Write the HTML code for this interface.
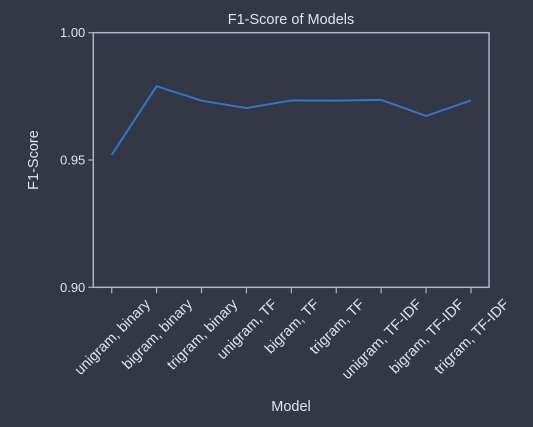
<!DOCTYPE html>
<html><head><meta charset="utf-8"><style>
html,body{margin:0;padding:0;background:#323845;}
svg{display:block;font-family:"Liberation Sans",sans-serif;}
</style></head><body>
<svg id="chart" width="533" height="427">
<rect width="533" height="427" fill="#323845"/>
<text x="291" y="24" fill="#e0e3e8" font-size="14.5" text-anchor="middle">F1-Score of Models</text>
<text x="291" y="411" fill="#e0e3e8" font-size="14.5" text-anchor="middle">Model</text>
<text transform="translate(38,160) rotate(-90)" fill="#e0e3e8" font-size="14.5" text-anchor="middle">F1-Score</text>
<g id="marks"></g>
</svg>
<script>
const categories=["unigram, binary","bigram, binary","trigram, binary","unigram, TF","bigram, TF","trigram, TF","unigram, TF-IDF","bigram, TF-IDF","trigram, TF-IDF"];
const f1Values=[0.952,0.979,0.9733,0.9704,0.9734,0.9733,0.9736,0.9673,0.9734];
const yTicks=[0.90,0.95,1.00];
const yTickLabels=["0.90","0.95","1.00"];
const L=93.3,R=489,T=32.7,B=287.3,yMin=0.9,yMax=1.0;
const ns="http://www.w3.org/2000/svg";
const g=document.getElementById('marks');
const axisCol="#a9b6cc",txt="#e0e3e8";
function xs(i){return 111.7+i*(471-111.7)/(categories.length-1);}
function ys(v){return B-(v-yMin)/(yMax-yMin)*(B-T);}
function mk(tag,attrs){const e=document.createElementNS(ns,tag);for(const k in attrs)e.setAttribute(k,attrs[k]);g.appendChild(e);return e;}
const frame=mk('rect',{x:L,y:T,width:R-L,height:B-T,fill:'none',stroke:axisCol,'stroke-width':1.5});


yTicks.forEach((v,i)=>{
  const t=mk('line',{x1:L-5,x2:L,y1:ys(v),y2:ys(v),stroke:axisCol,'stroke-width':1.2});
  
  
  const lb=mk('text',{x:L-8,y:ys(v)+4.5,fill:txt,'font-size':13,'text-anchor':'end'});
  lb.textContent=yTickLabels[i];
  
  
});
categories.forEach((c,i)=>{
  const x=xs(i);
  const t=mk('line',{x1:x,x2:x,y1:B,y2:B+6,stroke:axisCol,'stroke-width':1.2});
  
  
  const lb=mk('text',{fill:txt,'font-size':14.5,'text-anchor':'end'});
  lb.textContent=c;
  
  
  const len=lb.getComputedTextLength();
  const ex=x+len/(2*Math.SQRT2)+4, ey=305;
  lb.setAttribute('transform','translate('+ex+','+ey+') rotate(-45)');
});
const pts=f1Values.map((v,i)=>xs(i)+','+ys(v)).join(' ');
const line=mk('polyline',{points:pts,fill:'none',stroke:'#3a73c6','stroke-width':2,'stroke-linejoin':'round'});


</script>
</body></html>
